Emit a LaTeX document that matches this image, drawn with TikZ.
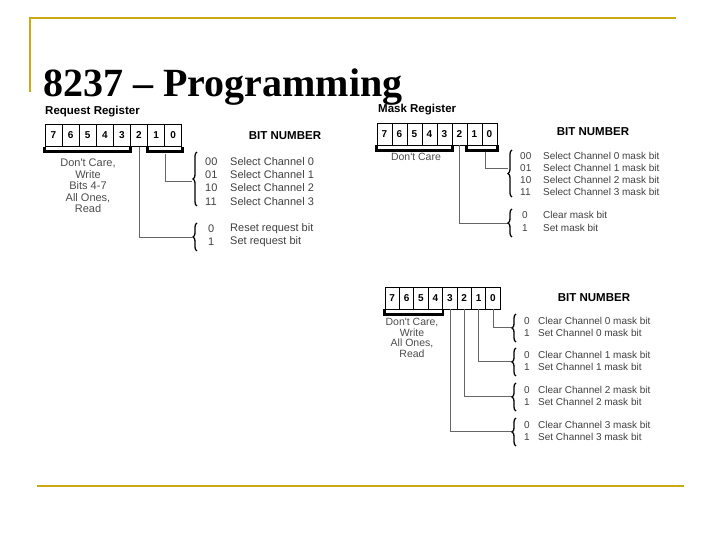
\documentclass[tikz,border=0pt]{standalone}
\usepackage{fontspec}
\setmainfont{Liberation Serif}
\newfontfamily\regfont{Liberation Sans}
\usepackage{tikz}
\usetikzlibrary{decorations.pathreplacing}
\definecolor{slidegold}{RGB}{204,170,20}
\tikzset{bitcell/.style = {draw, line width = 0.8pt, minimum height = 22pt, inner sep = 0pt, font = \regfont\fontsize{10}{10}\selectfont\bfseries},
         group/.style = {line width = 2.8pt},
         feed/.style = {draw, gray!80!black, line width = 0.6pt},
         cbrace/.style = {decorate, decoration = {brace, amplitude = 4pt}, line width = 1.3pt},
         txt/.style = {font = \regfont\fontsize{10}{11}\selectfont, inner sep = 0pt, anchor = west, text = black!75},
         note/.style = {font = \regfont\fontsize{10.5}{10.5}\selectfont, inner sep = 0pt, anchor = north, align = center, text = black!70},
         head/.style = {font = \regfont\fontsize{11.5}{12}\selectfont\bfseries, inner sep = 0pt}}
\begin{document}
\begin{tikzpicture}[x = 1pt, y = -1pt]
    \useasboundingbox (0, 0) rectangle (720, 540);
    % slide frame
    \draw [slidegold, line width = 2pt] (30, 92) -- (30, 18) -- (676, 18);
    \draw [slidegold, line width = 2pt] (37, 486) -- (684, 486);
    \node [anchor = base west, inner sep = 0pt, font = \fontsize{40}{41}\selectfont\bfseries] (title) at (43, 97) {8237 -- Programming};
    % request register
    \node [head, anchor = west] (rqname) at (45, 112) {Request Register};
    \foreach \b\x in {7/0, 6/1, 5/2, 4/3, 3/4, 2/5, 1/6, 0/7} {
        \node [bitcell, minimum width = 17.1pt] (q\b) at (53.5 + 17.1 * \x, 135.5) {\b};
    }
    \draw [group] (q7.south west) -- ++(0, 5) -| (q3.south east);
    \draw [group] (q1.south west) -- ++(0, 5) -| (q0.south east);
    \node [note, font = \regfont\fontsize{11}{11.5}\selectfont] (rqnote) at (88, 159) {Don't Care,\\Write\\Bits 4-7\\All Ones,\\Read};
    \node [head] (rqbits) at (285, 136) {BIT NUMBER};
    \coordinate (rqa) at (192, 181);
    \coordinate (rqb) at (192, 237);
    \draw [feed] (q2.south) |- (rqb);
    \draw [feed] (165, 154) |- (rqa);
    \draw [cbrace] (197, 206) -- (197, 152);
    \draw [cbrace] (197, 251) -- (197, 223);
    \foreach \c\v\y in {00/0/162, 01/1/175, 10/2/188, 11/3/202} {
        \node [txt, font = \regfont\fontsize{11}{11}\selectfont] (rqc\v) at (205, \y) {\c};
        \node [txt, font = \regfont\fontsize{11}{11}\selectfont] at (230, \y) {Select Channel \v};
    }
    \node [txt, font = \regfont\fontsize{11}{11}\selectfont] (rqr0) at (208, 229) {0};
    \node [txt, font = \regfont\fontsize{11}{11}\selectfont] at (230, 229) {Reset request bit};
    \node [txt, font = \regfont\fontsize{11}{11}\selectfont] (rqr1) at (208, 242) {1};
    \node [txt, font = \regfont\fontsize{11}{11}\selectfont] at (230, 242) {Set request bit};
    % mask register
    \node [head, anchor = west] (mkname) at (378, 110) {Mask Register};
    \foreach \b\x in {7/0, 6/1, 5/2, 4/3, 3/4, 2/5, 1/6, 0/7} {
        \node [bitcell, minimum width = 15pt] (m\b) at (384.5 + 15 * \x, 134) {\b};
    }
    \draw [group] (m7.south west) -- ++(0, 5) -| (m3.south east);
    \draw [group] (m1.south west) -- ++(0, 5) -| (m0.south east);
    \node [note] (mknote) at (416, 153) {Don't Care};
    \node [head] (mkbits) at (593, 132) {BIT NUMBER};
    \coordinate (mka) at (508, 168);
    \coordinate (mkb) at (508, 223);
    \draw [feed] (m2.south) |- (mkb);
    \draw [feed] (485, 152) |- (mka);
    \draw [cbrace] (512, 197) -- (512, 150);
    \draw [cbrace] (512, 237) -- (512, 209);
    \foreach \c\v\y in {00/0/156, 01/1/168, 10/2/180, 11/3/192} {
        \node [txt] (mkc\v) at (520, \y) {\c};
        \node [txt] at (543, \y) {Select Channel \v{} mask bit};
    }
    \node [txt] (mkr0) at (522, 215) {0};
    \node [txt] at (543, 215) {Clear mask bit};
    \node [txt] (mkr1) at (522, 228) {1};
    \node [txt] at (543, 228) {Set mask bit};
    % all mask bits
    \foreach \b\x in {7/0, 6/1, 5/2, 4/3, 3/4, 2/5, 1/6, 0/7} {
        \node [bitcell, minimum width = 14.4pt] (a\b) at (392.2 + 14.4 * \x, 298) {\b};
    }
    \draw [group] (a7.south west) -- ++(0, 5) -| (a4.south east);
    \node [note] (alnote) at (412, 318) {Don't Care,\\Write\\All Ones,\\Read};
    \node [head] (albits) at (594, 298) {BIT NUMBER};
    \foreach \b\y in {0/327, 1/361, 2/396, 3/431} {
        \coordinate (al\b) at (512, \y);
        \draw [feed] (a\b.south) |- (al\b);
        \draw [cbrace] (516, \y + 15) -- (516, \y - 13);
        \node [txt] at (524, \y - 6) {0};
        \node [txt] at (538, \y - 6) {Clear Channel \b{} mask bit};
        \node [txt] at (524, \y + 6) {1};
        \node [txt] at (538, \y + 6) {Set Channel \b{} mask bit};
    }
\end{tikzpicture}
\end{document}
